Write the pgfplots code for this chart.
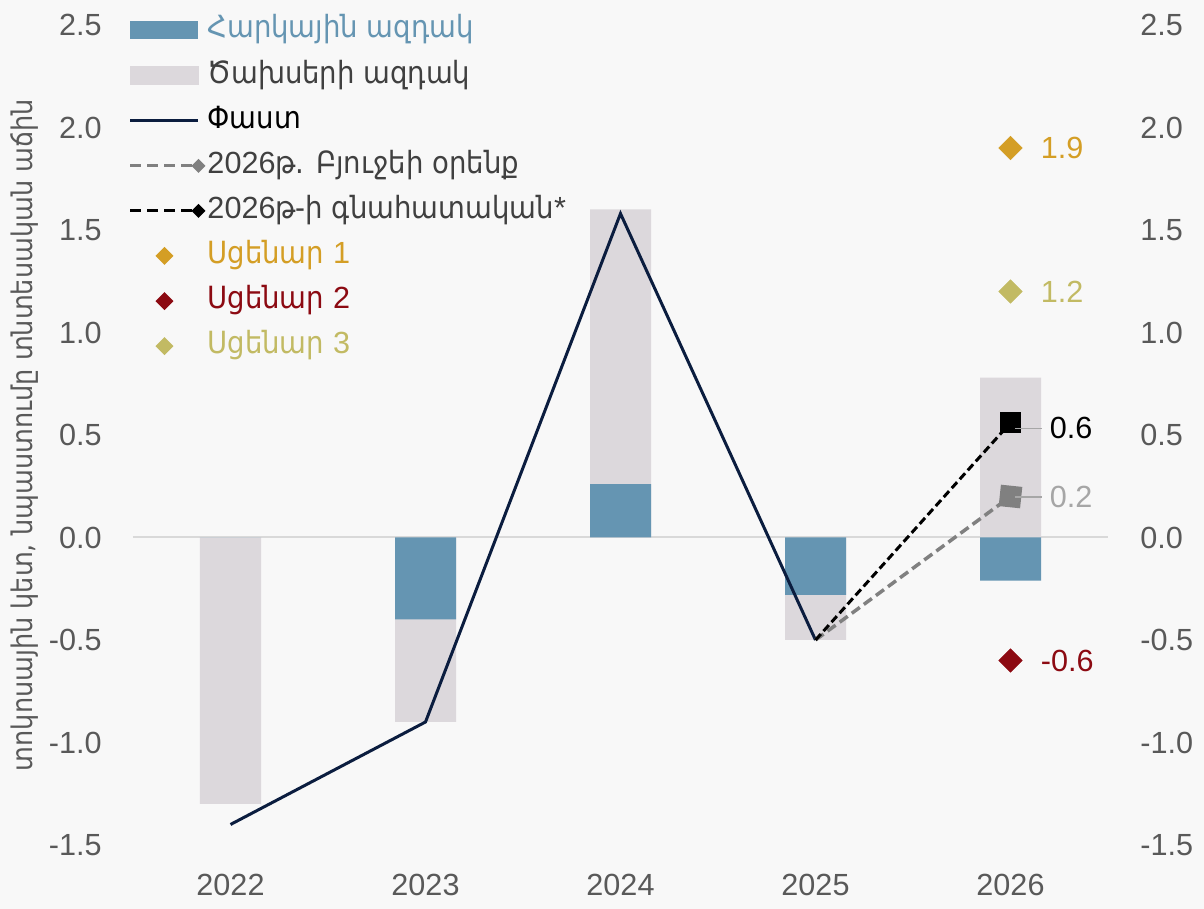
\documentclass[border=0pt]{standalone}
\usepackage{fontspec}
\setmainfont{Liberation Sans}
\newfontfamily\arm{DejaVu Sans Condensed}
\usepackage{pgfplots}
\pgfplotsset{compat=1.18}

\definecolor{bgc}{HTML}{F8F8F8}
\definecolor{barblue}{HTML}{6595B2}
\definecolor{bargrey}{HTML}{DCD8DC}
\definecolor{navy}{HTML}{0B1D3F}
\definecolor{dgrey}{HTML}{808080}
\definecolor{sca}{HTML}{D49E25}
\definecolor{scb}{HTML}{8C0A12}
\definecolor{scc}{HTML}{C2BA63}
\definecolor{ticktxt}{HTML}{595959}
\definecolor{legtxt}{HTML}{404040}
\definecolor{zline}{HTML}{D9D9D9}
\definecolor{leader}{HTML}{A6A6A6}

\pgfplotsset{
  base/.style={
    scale only axis, width=487.5pt, height=410pt,
    xmin=-0.5, xmax=4.5, ymin=-1.5, ymax=2.5,
    axis line style={draw=none}, major tick length=0pt,
    ytick={-1.5,-1,...,2.5},
    tick label style={font=\fontsize{15.3}{18}\selectfont, text=ticktxt, inner sep=0pt},
    /pgf/number format/.cd, fixed, fixed zerofill, precision=1, assume math mode=true,
  },
  legbar/.style={legend image code/.code={
    \path[draw=none, fill=none] (0pt,0pt) -- (37pt,0pt);
    \fill[#1] (0pt,-4.5pt) rectangle (34pt,4.5pt);}},
  legdash/.style={legend image code/.code={
    \path[draw=none, fill=none] (0pt,0pt) -- (37pt,0pt);
    \draw[#1, line width=1.5pt, dash pattern=on 5.5pt off 3pt] (0pt,0pt) -- (31pt,0pt);
    \fill[#1, draw=none] (30.5pt,0pt) -- (34pt,3.5pt) -- (37.5pt,0pt) -- (34pt,-3.5pt) -- cycle;}},
  legdia/.style={legend image code/.code={
    \path[draw=none, fill=none] (0pt,0pt) -- (37pt,0pt);
    \fill[#1, draw=none] (12.5pt,0pt) -- (17pt,4.5pt) -- (21.5pt,0pt) -- (17pt,-4.5pt) -- cycle;}},
  dia/.style={only marks, mark=square*, mark size=4.1pt,
    mark options={rotate=45, fill=#1, draw=#1},
    nodes near coords, point meta=explicit symbolic,
    every node near coord/.append style={anchor=west, xshift=15pt, inner sep=0pt,
      text=#1, font=\fontsize{15.3}{18}\selectfont}},
  vallab/.style={draw=none, mark=none, forget plot, nodes near coords, point meta=explicit symbolic,
    every node near coord/.append style={anchor=west, xshift=2pt, yshift=#1, inner sep=0pt,
      font=\fontsize{15.3}{18}\selectfont}},
}

\begin{document}
\begin{tikzpicture}
\fill[bgc] (-66.5pt,-32pt) rectangle (535.5pt,422.5pt);
\begin{axis}[base, at={(0pt,0pt)}, anchor=south west,
  xtick={0,1,2,3,4}, xticklabels={2022,2023,2024,2025,2026},
  xticklabel style={anchor=north, yshift=-14.5pt},
  yticklabel style={anchor=east, xshift=-15.5pt},
  extra y ticks={0}, extra y tick labels={},
  extra y tick style={grid=major, grid style={zline, line width=1pt}},
  ylabel={\arm տոկոսային կետ, նպաստումը տնտեսական աճին},
  ylabel style={at={(axis description cs:0,0.5)}, yshift=54pt, anchor=center,
    font=\fontsize{14.2}{16}\selectfont, text=ticktxt},
  legend cell align=left,
  legend style={draw=none, fill=none, at={(axis description cs:0,1)}, anchor=north west,
    xshift=-2pt, yshift=4.5pt, inner sep=0pt, outer sep=0pt, row sep=8.05pt, column sep=1pt,
    nodes={inner sep=0pt, text height=11pt, text depth=3.5pt,
      font=\fontsize{15.3}{18}\selectfont}},
]
% total bars (expenditure part shown beyond the tax part)
\addplot[ybar, bar width=30.5pt, bar shift=0pt, fill=bargrey, draw=none, forget plot]
  coordinates {(0,-1.30) (1,-0.90) (2,1.60) (3,-0.50) (4,0.78)};
\addplot[ybar, bar width=30.5pt, bar shift=0pt, fill=barblue, draw=none, legbar=barblue]
  coordinates {(0,0) (1,-0.40) (2,0.26) (3,-0.28) (4,-0.21)};
\addlegendentry{\textcolor{barblue}{\arm Հարկային ազդակ}}
\addlegendimage{legbar=bargrey}
\addlegendentry{\textcolor{legtxt}{\arm Ծախսերի ազդակ}}
\addplot[navy, line width=1.5pt, mark=none,
  legend image code/.code={\path[draw=none] (0pt,0pt) -- (37pt,0pt);
    \draw[navy, line width=1.5pt] (0pt,0pt) -- (34pt,0pt);}]
  coordinates {(0,-1.40) (1,-0.90) (2,1.58) (3,-0.50)};
\addlegendentry{\textcolor{black}{\arm Փաստ}}
\addplot[dgrey, line width=1.75pt, dash pattern=on 5pt off 2.5pt, mark=square*, mark indices={2},
  mark size=4.5pt, mark options={solid, rotate=-6, fill=dgrey}, legdash=dgrey]
  coordinates {(3,-0.50) (4,0.20)};
\addlegendentry{\textcolor{legtxt}{2026{\arm թ. Բյուջեի օրենք}}}
\addplot[black, line width=1.5pt, dash pattern=on 4pt off 2pt, mark=square*, mark indices={2},
  mark size=4.5pt, mark options={solid, fill=black}, legdash=black]
  coordinates {(3,-0.50) (4,0.56)};
\addlegendentry{\textcolor{legtxt}{2026{\arm թ-ի գնահատական}*}}
\addplot[dia=sca, legdia=sca] coordinates {(4,1.9) [1.9]};
\addlegendentry{\textcolor{sca}{\arm Սցենար {\rmfamily 1}}}
\addplot[dia=scb, legdia=scb] coordinates {(4,-0.6) [-0.6]};
\addlegendentry{\textcolor{scb}{\arm Սցենար {\rmfamily 2}}}
\addplot[dia=scc, legdia=scc] coordinates {(4,1.2) [1.2]};
\addlegendentry{\textcolor{scc}{\arm Սցենար {\rmfamily 3}}}
% value labels with leader lines
\addplot[vallab=-2.5pt]
  coordinates {(4,0.56) [{\textcolor{leader}{\rule[0.3em]{13.5pt}{0.7pt}}\hspace{4pt}\textcolor{black}{0.6}}]};
\addplot[vallab=0pt]
  coordinates {(4,0.20) [{\textcolor{leader}{\rule[0.3em]{13.5pt}{0.7pt}}\hspace{4pt}\textcolor{leader}{0.2}}]};
\end{axis}
\begin{axis}[base, at={(0pt,0pt)}, anchor=south west,
  xtick=\empty, yticklabel pos=right,
  yticklabel style={anchor=west, xshift=16pt}]
\addplot[draw=none, forget plot] coordinates {(0,0)};
\end{axis}
\pgfresetboundingbox
\useasboundingbox (-66.5pt,-32pt) rectangle (535.5pt,422.5pt);
\end{tikzpicture}
\end{document}
